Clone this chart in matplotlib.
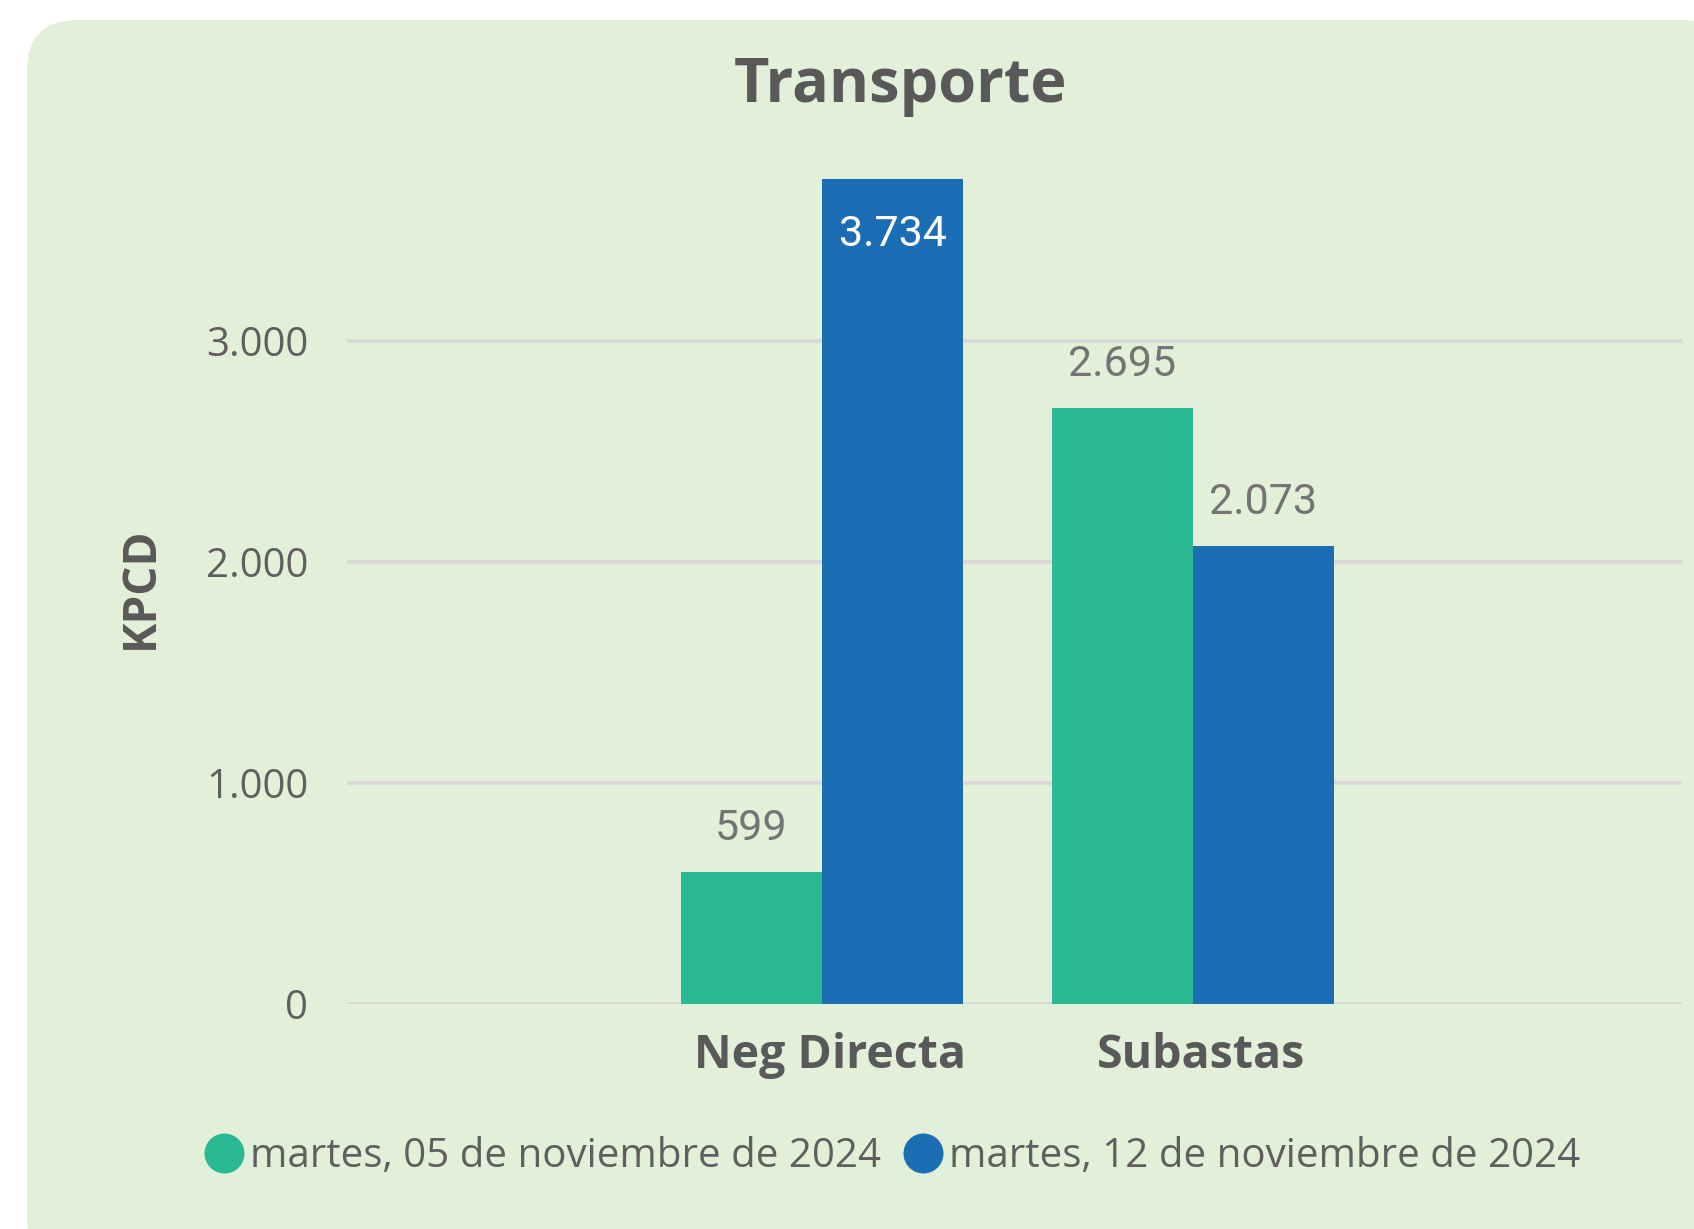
import matplotlib
matplotlib.use("Agg")
import matplotlib.pyplot as plt
from matplotlib.patches import FancyBboxPatch
from matplotlib.lines import Line2D
import numpy as np

# ---- data ----
categories = ["Neg Directa", "Subastas"]
series_names = ["martes, 05 de noviembre de 2024", "martes, 12 de noviembre de 2024"]
values_05nov = [599, 2695]
values_12nov = [3734, 2073]
yticks = [0, 1000, 2000, 3000]
ytick_labels = ["0", "1.000", "2.000", "3.000"]
title = "Transporte"
ylabel = "KPCD"

# ---- style ----
W, H, DPI = 1694, 1229, 100
BG = "#E2EFD9"
GREEN = "#2BB994"
BLUE = "#1B6DB4"
GRID = "#D8D8D8"
DARK = "#595959"
TICK = "#5F5F5F"
LBL = "#747474"
FONT = "Open Sans"
NUM_FONT = "Roboto"

def fmt(v):
    return f"{v:,}".replace(",", ".")

fig = plt.figure(figsize=(W / DPI, H / DPI), dpi=DPI)
fig.patch.set_facecolor("white")

# rounded panel background
panel = FancyBboxPatch((27 / W, -40 / H), (W + 40 - 27) / W, (H + 40 - 20) / H,
                       boxstyle="round,pad=0,rounding_size=0.03",
                       transform=fig.transFigure, facecolor=BG, edgecolor="none",
                       mutation_aspect=W / H, zorder=-10)
fig.patches.append(panel)

# axes placement (pixels)
ax_left, ax_right = 347, 1682
ax_bottom_px = 1004
ymax = 4000
px_per_unit = 221 / 1000
ax_top_px = ax_bottom_px - ymax * px_per_unit
ax = fig.add_axes([ax_left / W, (H - ax_bottom_px) / H,
                   (ax_right - ax_left) / W, (ax_bottom_px - ax_top_px) / H])
ax.set_facecolor("none")
ax.set_zorder(2)

x = np.arange(len(categories))
bw = 0.3806
ax.bar(x - bw / 2, values_05nov, width=bw, color=GREEN, zorder=3, label=series_names[0])
ax.bar(x + bw / 2, values_12nov, width=bw, color=BLUE, zorder=3, label=series_names[1])

ax.set_xlim(-1.282, 2.321)
ax.set_ylim(0, ymax)
ax.set_yticks(yticks)
ax.set_yticklabels(ytick_labels, fontfamily=FONT, fontsize=29, color=TICK)
ax.tick_params(axis="y", length=0, pad=28)
ax.yaxis.grid(True, color=GRID, linewidth=2.6, zorder=0)
ax.set_axisbelow(True)
for s in ax.spines.values():
    s.set_visible(False)
ax.set_xticks([])

# category labels (baseline below axis)
cat_offsets = [8, 8]
for xi, name, off in zip(x, categories, cat_offsets):
    ax.annotate(name, xy=(xi, 0), xytext=(off * 0.72, -64 * 0.72), textcoords="offset points",
                ha="center", va="baseline", fontfamily=FONT, fontweight="bold",
                fontsize=33.5, color=DARK, annotation_clip=False)

# data labels
def label(xpos, val, inside=False):
    if inside:
        ax.annotate(fmt(val), xy=(xpos, val), xytext=(0, -67 * 0.72), textcoords="offset points",
                    ha="center", va="baseline", fontfamily=NUM_FONT, fontsize=31,
                    color="white", zorder=5)
    else:
        ax.annotate(fmt(val), xy=(xpos, val), xytext=(0, 32 * 0.72), textcoords="offset points",
                    ha="center", va="baseline", fontfamily=NUM_FONT, fontsize=31,
                    color=LBL, zorder=5)

for xi, v in zip(x, values_05nov):
    label(xi - bw / 2, v)
for xi, v in zip(x, values_12nov):
    label(xi + bw / 2, v, inside=(v > 3500))

# title
fig.text(900 / W, (H - 102) / H, title, ha="center", va="baseline",
         fontfamily=FONT, fontweight="bold", fontsize=44, color=DARK)

# y label
fig.text(140 / W, (H - 588) / H, ylabel, rotation=90, ha="center", va="center",
         fontfamily=FONT, fontweight="bold", fontsize=33, color=DARK)

# legend
handles = [Line2D([], [], marker="o", linestyle="none", markersize=28.8,
                  markerfacecolor=c, markeredgecolor="none") for c in (GREEN, BLUE)]
leg = fig.legend(handles, series_names, loc="center", bbox_to_anchor=(892 / W, (H - 1157) / H),
                 ncol=2, frameon=False, handlelength=1.0, handletextpad=0.15,
                 columnspacing=0.55, borderaxespad=0, borderpad=0,
                 prop={"family": FONT, "size": 29})
for t in leg.get_texts():
    t.set_color(TICK)

fig.savefig("out.png", dpi=DPI, facecolor=fig.get_facecolor())
